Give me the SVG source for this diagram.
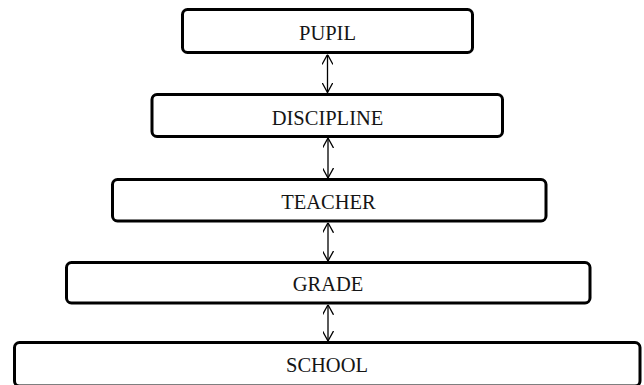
<svg xmlns="http://www.w3.org/2000/svg" width="644" height="385" viewBox="0 0 644 385">
  <style>
    .box { fill: #ffffff; stroke: #000000; stroke-width: 3; }
    .lbl { font-family: "Liberation Serif", "Times New Roman", serif; font-size: 20.5px; fill: #151515; text-anchor: middle; }
    .conn { stroke: #000000; stroke-width: 1.3; fill: none; marker-start: url(#head); marker-end: url(#head); }
  </style>
  <defs>
    <marker id="head" viewBox="0 0 10 11" refX="10" refY="5.5" markerWidth="10" markerHeight="11" markerUnits="userSpaceOnUse" orient="auto-start-reverse">
      <path d="M0,0 L10,5.5 L0,11" fill="none" stroke="#000000" stroke-width="1.3"/>
    </marker>
  </defs>
  <rect x="0" y="0" width="644" height="385" fill="#ffffff"/>
  <g id="connectors">
    <path class="conn" d="M327.5,54.5 L327.5,92.5"/>
    <path class="conn" d="M328,138 L328,178"/>
    <path class="conn" d="M328,222.8 L328,261"/>
    <path class="conn" d="M328,304.8 L328,341"/>
  </g>
  <g id="pupil">
    <rect class="box" x="182.5" y="9.5" width="290" height="43" rx="5"/>
    <text class="lbl" x="327.5" y="40">PUPIL</text>
  </g>
  <g id="discipline">
    <rect class="box" x="152" y="94.5" width="350.5" height="42" rx="5"/>
    <text class="lbl" x="327.5" y="124.5">DISCIPLINE</text>
  </g>
  <g id="teacher">
    <rect class="box" x="112.5" y="179.5" width="433.5" height="41.5" rx="5"/>
    <text class="lbl" x="328.5" y="208.5">TEACHER</text>
  </g>
  <g id="grade">
    <rect class="box" x="66.5" y="262.5" width="523.5" height="40.5" rx="5"/>
    <text class="lbl" x="328" y="290.5">GRADE</text>
  </g>
  <g id="school">
    <rect class="box" x="14.5" y="342.5" width="625.5" height="43.5" rx="5"/>
    <text class="lbl" x="327" y="372">SCHOOL</text>
  </g>
</svg>
